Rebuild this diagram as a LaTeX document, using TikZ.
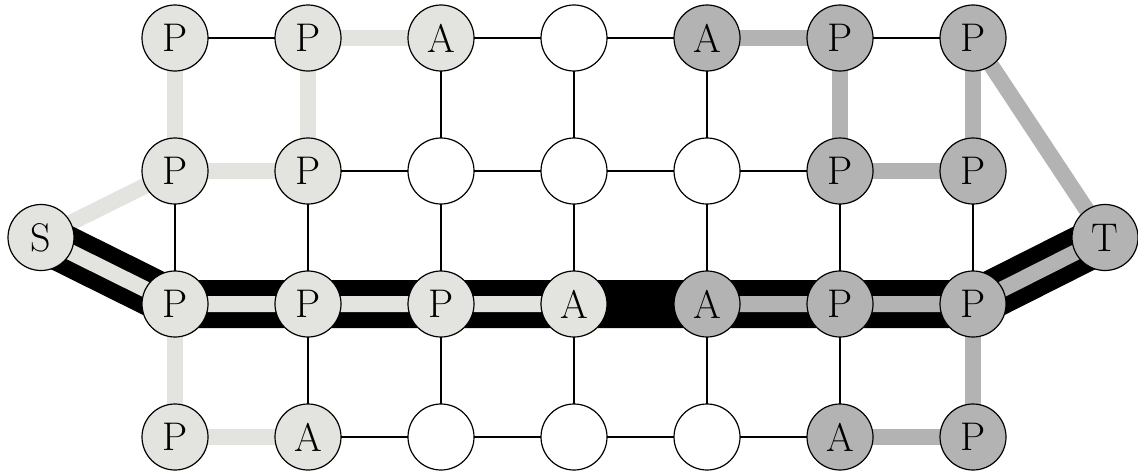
\documentclass[tikz,border=0pt]{standalone}
\usetikzlibrary{backgrounds}
\definecolor{lightc}{RGB}{227,228,224}
\definecolor{darkc}{RGB}{179,179,179}
\tikzset{
  vtx/.style={circle, draw=black, line width=0.6pt, minimum size=33pt, inner sep=0pt, font=\fontsize{20}{24}\selectfont},
  lt/.style={vtx, fill=lightc},
  dk/.style={vtx, fill=darkc},
  wt/.style={vtx, fill=white},
  thinedge/.style={line width=0.6pt, draw=black},
  ltedge/.style={line width=8pt, draw=lightc},
  dkedge/.style={line width=8pt, draw=darkc},
  blkedge/.style={line width=24pt, draw=black},
}
\begin{document}
\begin{tikzpicture}[x=0.5pt, y=-0.5pt]
\useasboundingbox (0,0) rectangle (1138,471);
% S and T
\node[lt] (S) at (41,237.5) {S};
\node[dk] (T) at (1105,237.5) {T};
% row 1
\node[lt] (n11) at (175,38) {P};
\node[lt] (n21) at (308,38) {P};
\node[lt] (n31) at (441,38) {A};
\node[wt] (n41) at (574,38) {};
\node[dk] (n51) at (707,38) {A};
\node[dk] (n61) at (840,38) {P};
\node[dk] (n71) at (973,38) {P};
% row 2
\node[lt] (n12) at (175,171) {P};
\node[lt] (n22) at (308,171) {P};
\node[wt] (n32) at (441,171) {};
\node[wt] (n42) at (574,171) {};
\node[wt] (n52) at (707,171) {};
\node[dk] (n62) at (840,171) {P};
\node[dk] (n72) at (973,171) {P};
% row 3
\node[lt] (n13) at (175,304) {P};
\node[lt] (n23) at (308,304) {P};
\node[lt] (n33) at (441,304) {P};
\node[lt] (n43) at (574,304) {A};
\node[dk] (n53) at (707,304) {A};
\node[dk] (n63) at (840,304) {P};
\node[dk] (n73) at (973,304) {P};
% row 4
\node[lt] (n14) at (175,437) {P};
\node[lt] (n24) at (308,437) {A};
\node[wt] (n34) at (441,437) {};
\node[wt] (n44) at (574,437) {};
\node[wt] (n54) at (707,437) {};
\node[dk] (n64) at (840,437) {A};
\node[dk] (n74) at (973,437) {P};
\begin{pgfonlayer}{background}
% thin edges
\draw[thinedge] (n11.center) -- (n21.center);
\draw[thinedge] (n31.center) -- (n41.center) -- (n51.center);
\draw[thinedge] (n61.center) -- (n71.center);
\draw[thinedge] (n22.center) -- (n32.center) -- (n42.center) -- (n52.center) -- (n62.center);
\draw[thinedge] (n24.center) -- (n34.center) -- (n44.center) -- (n54.center) -- (n64.center);
\draw[thinedge] (n12.center) -- (n13.center);
\draw[thinedge] (n22.center) -- (n23.center) -- (n24.center);
\draw[thinedge] (n31.center) -- (n32.center) -- (n33.center) -- (n34.center);
\draw[thinedge] (n41.center) -- (n42.center) -- (n43.center) -- (n44.center);
\draw[thinedge] (n51.center) -- (n52.center) -- (n53.center) -- (n54.center);
\draw[thinedge] (n62.center) -- (n63.center) -- (n64.center);
\draw[thinedge] (n72.center) -- (n73.center);
% light thick edges
\draw[ltedge] (n21.center) -- (n31.center);
\draw[ltedge] (n12.center) -- (n22.center);
\draw[ltedge] (n14.center) -- (n24.center);
\draw[ltedge] (n11.center) -- (n12.center);
\draw[ltedge] (n13.center) -- (n14.center);
\draw[ltedge] (n21.center) -- (n22.center);
\draw[ltedge] (S.center) -- (n12.center);
% dark thick edges
\draw[dkedge] (n51.center) -- (n61.center);
\draw[dkedge] (n62.center) -- (n72.center);
\draw[dkedge] (n64.center) -- (n74.center);
\draw[dkedge] (n61.center) -- (n62.center);
\draw[dkedge] (n71.center) -- (n72.center);
\draw[dkedge] (n73.center) -- (n74.center);
\draw[dkedge] (n71.center) -- (T.center);
% black path
\draw[blkedge] (S.center) -- (n13.center) -- (n23.center) -- (n33.center) -- (n43.center) -- (n53.center) -- (n63.center) -- (n73.center) -- (T.center);
\draw[ltedge] (S.center) -- (n13.center) -- (n23.center) -- (n33.center) -- (n43.center);
\draw[dkedge] (n53.center) -- (n63.center) -- (n73.center) -- (T.center);
\end{pgfonlayer}
\end{tikzpicture}
\end{document}
